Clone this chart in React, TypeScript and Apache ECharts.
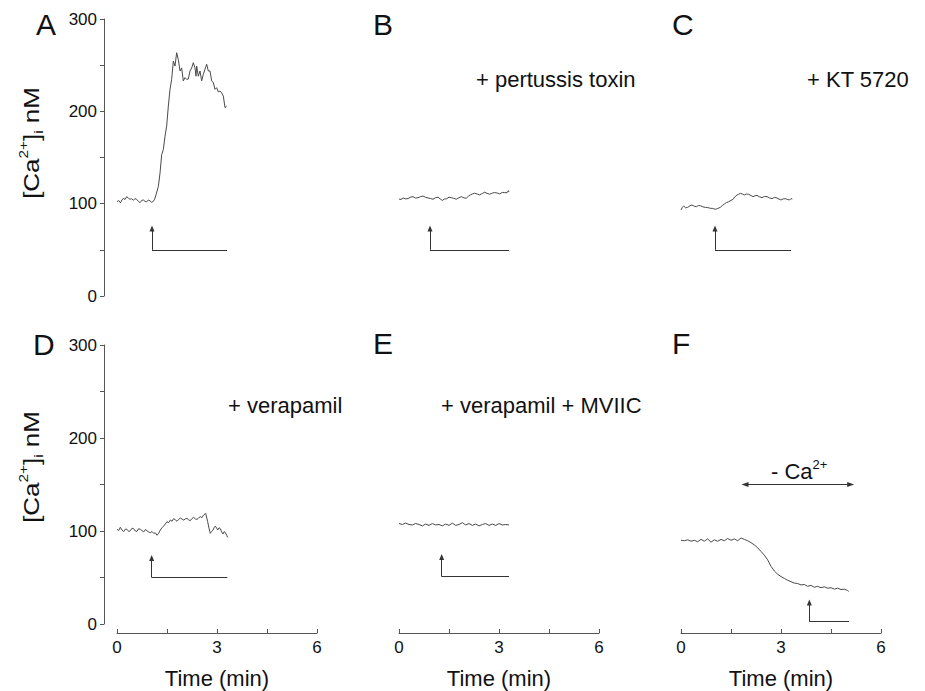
import React, { useEffect, useRef } from 'react';
import * as echarts from 'echarts';

// ---- Data (time in min, [Ca2+]i in nM) ----
const panelLetters = ['A', 'B', 'C', 'D', 'E', 'F'];
const treatmentLabels = ['', '+ pertussis toxin', '+ KT 5720', '+ verapamil', '+ verapamil + MVIIC', ''];
const xTicks = [0, 3, 6];
const yTicks = [0, 100, 200, 300];

const traceA: [number, number][] = [
  [0, 102], [0.05, 103.5], [0.1, 101], [0.15, 104], [0.19, 105.8], [0.24, 104.5], [0.29, 107.6], [0.34, 106], [0.39, 104.7],
  [0.44, 105.5], [0.49, 103.6], [0.54, 105.5], [0.59, 104.7], [0.64, 102.5], [0.69, 101], [0.74, 103.5], [0.79, 104],
  [0.84, 102.5], [0.89, 102], [0.94, 104], [0.99, 103], [1.04, 101.5], [1.09, 102.5], [1.13, 105], [1.17, 109.5],
  [1.24, 118.6], [1.29, 133], [1.34, 153], [1.39, 158.6], [1.44, 173], [1.49, 184], [1.54, 205.7], [1.59, 223.8],
  [1.64, 234.6], [1.69, 254.5], [1.74, 249], [1.79, 263.5], [1.84, 256], [1.89, 243.7], [1.94, 247], [1.99, 232.9],
  [2.04, 236.5], [2.09, 234.6], [2.14, 235], [2.19, 243.7], [2.24, 247], [2.29, 252.7], [2.34, 247], [2.37, 238],
  [2.39, 249], [2.44, 238], [2.49, 243.7], [2.54, 233], [2.59, 240], [2.64, 245.6], [2.69, 251], [2.74, 243.7],
  [2.79, 243.7], [2.84, 233], [2.89, 231], [2.94, 223.8], [2.99, 225.6], [3.04, 221], [3.09, 222], [3.14, 220],
  [3.19, 216.5], [3.24, 204], [3.29, 205.7]
];

const traceB: [number, number][] = [
  [0, 105], [0.06, 104.5], [0.12, 106.2], [0.2, 105.2], [0.27, 105.5], [0.34, 107], [0.42, 107.6], [0.5, 106],
  [0.57, 106.5], [0.64, 107.5], [0.72, 108.3], [0.8, 106.8], [0.87, 106.2], [0.95, 105.5], [1.02, 104.8], [1.1, 106.5],
  [1.17, 107], [1.24, 105], [1.3, 103.5], [1.36, 105], [1.42, 105.2], [1.5, 107], [1.57, 106.5], [1.64, 105.8],
  [1.72, 104.8], [1.8, 106.5], [1.87, 107.6], [1.95, 106.2], [2.02, 106], [2.08, 108], [2.14, 109.5], [2.2, 110.5],
  [2.27, 111.3], [2.35, 110.4], [2.42, 109.5], [2.5, 111], [2.57, 112.4], [2.64, 111.2], [2.72, 110.2], [2.8, 111.5],
  [2.87, 112], [2.95, 111.5], [3.02, 110.6], [3.1, 112.2], [3.17, 112], [3.24, 111.8], [3.28, 114.1], [3.3, 112.5]
];

const traceC: [number, number][] = [
  [0, 93.1], [0.04, 96], [0.08, 97.5], [0.14, 95.5], [0.2, 96], [0.27, 97.8], [0.33, 98.5], [0.4, 97.2], [0.46, 96.7],
  [0.52, 98], [0.58, 97.8], [0.66, 96.5], [0.73, 96], [0.8, 95.8], [0.88, 95], [0.95, 94.8], [1.03, 93.9], [1.1, 94.8],
  [1.18, 96], [1.24, 98], [1.3, 99.6], [1.36, 101.2], [1.43, 102.1], [1.5, 103.5], [1.56, 104.7], [1.62, 107.5],
  [1.68, 109.4], [1.73, 110.2], [1.78, 111.2], [1.84, 110.5], [1.9, 109.4], [1.96, 110.5], [2.03, 110.1], [2.1, 108.8],
  [2.16, 107.6], [2.22, 108.5], [2.28, 109], [2.35, 107.5], [2.43, 106.5], [2.5, 107.8], [2.58, 107.6], [2.65, 106.3],
  [2.73, 105.4], [2.8, 106.8], [2.88, 106.2], [2.94, 105], [3.0, 104], [3.07, 105.2], [3.13, 105.4], [3.2, 104.5],
  [3.26, 104], [3.3, 105.5], [3.34, 105]
];

const traceD: [number, number][] = [
  [0, 101.8], [0.05, 100.5], [0.1, 104], [0.15, 101], [0.2, 99.3], [0.25, 102], [0.3, 101.8], [0.35, 99.5], [0.4, 100.4],
  [0.45, 103], [0.5, 102.5], [0.55, 100], [0.6, 99.6], [0.65, 102.5], [0.7, 101.8], [0.75, 100.5], [0.8, 99], [0.85, 101.5],
  [0.9, 100.4], [0.95, 99], [1.0, 98.2], [1.05, 99.5], [1.1, 97.5], [1.15, 98], [1.2, 95.4], [1.25, 97.5], [1.3, 101],
  [1.35, 103.5], [1.4, 105.3], [1.45, 107.5], [1.5, 110], [1.55, 109], [1.6, 111.8], [1.65, 110.5], [1.7, 113.3],
  [1.75, 112], [1.8, 110.4], [1.85, 112.5], [1.9, 114], [1.95, 112.8], [2.0, 111.8], [2.05, 113], [2.1, 113.6],
  [2.15, 112], [2.2, 111.1], [2.25, 113.5], [2.3, 114.7], [2.35, 113], [2.4, 112.5], [2.45, 114], [2.5, 115.4],
  [2.55, 114.5], [2.6, 117.2], [2.66, 119], [2.72, 110], [2.76, 103], [2.8, 97.5], [2.84, 99.5], [2.88, 101],
  [2.92, 104], [2.95, 105.3], [2.99, 103], [3.02, 101], [3.06, 103.5], [3.1, 102.5], [3.14, 99], [3.18, 96.8],
  [3.22, 99.5], [3.25, 98.2], [3.29, 95.5], [3.32, 93.2]
];

const traceE: [number, number][] = [
  [0, 108], [0.1, 107], [0.2, 108.5], [0.3, 107], [0.4, 106.5], [0.5, 108], [0.6, 107], [0.7, 105.5], [0.8, 107.5],
  [0.9, 106], [1.0, 108], [1.1, 106.5], [1.2, 107], [1.3, 105.5], [1.4, 107.5], [1.5, 106], [1.6, 108.5], [1.7, 106],
  [1.8, 107], [1.9, 109], [2.0, 106.5], [2.1, 108], [2.2, 106], [2.3, 107.5], [2.4, 105.5], [2.5, 107], [2.6, 108],
  [2.7, 106], [2.8, 107.5], [2.9, 106], [3.0, 108], [3.1, 106.5], [3.2, 107], [3.3, 106.5]
];

const traceF: [number, number][] = [
  [0, 90], [0.1, 89.5], [0.2, 90.5], [0.3, 89], [0.4, 90], [0.5, 88.5], [0.6, 91], [0.7, 89], [0.8, 91.5], [0.9, 88],
  [1.0, 90.5], [1.1, 89], [1.2, 91], [1.3, 89.5], [1.4, 92], [1.5, 90], [1.6, 91.5], [1.7, 89.5], [1.8, 92.5], [1.9, 91],
  [2.0, 89.5], [2.1, 87.5], [2.2, 85], [2.3, 82], [2.4, 78], [2.5, 74], [2.6, 69], [2.7, 62], [2.8, 57], [2.9, 53.5],
  [3.0, 51], [3.1, 49], [3.2, 47], [3.3, 45.5], [3.4, 44], [3.5, 43.5], [3.6, 42], [3.7, 42.5], [3.8, 40.5], [3.9, 41.5],
  [4.0, 39.5], [4.1, 40.5], [4.2, 39], [4.3, 40], [4.4, 38.5], [4.5, 39], [4.6, 37.5], [4.7, 38.5], [4.8, 37], [4.9, 37.5],
  [5.0, 36], [5.03, 35]
];

// agonist application marker: [time of arrow, baseline level, arrow tip level, end time]
const markerA = [1.05, 50, 73, 3.3];
const markerB = [0.93, 50, 73, 3.3];
const markerC = [1.02, 50, 73, 3.3];
const markerD = [1.04, 50, 71, 3.31];
const markerE = [1.28, 51, 72, 3.3];
const markerF = [3.85, 2.5, 23, 5.04];

// Ca2+-free period in F: [start, end, level]
const caFreeF = [1.92, 5.09, 150];

const traces = [traceA, traceB, traceC, traceD, traceE, traceF];
const markers = [markerA, markerB, markerC, markerD, markerE, markerF];

const FONT = '"Liberation Sans", Arial, Helvetica, sans-serif';
const LINE = '#4a4a4a';
const AXIS = '#555';
const TEXT = '#111';

const gridLefts = [117, 399, 681];

export default function App() {
  const ref = useRef<HTMLDivElement>(null);

  useEffect(() => {
    if (!ref.current) return;
    const chart = echarts.init(ref.current, undefined, { renderer: 'svg' });

    const grids: any[] = [];
    const xAxes: any[] = [];
    const yAxes: any[] = [];
    const series: any[] = [];

    for (let i = 0; i < 6; i++) {
      const row = Math.floor(i / 3);
      const col = i % 3;
      grids.push({
        left: gridLefts[col],
        top: row === 0 ? 19 : 345,
        width: 200,
        height: row === 0 ? 277 : 279,
      });
      const showX = row === 1;
      const showY = col === 0;
      xAxes.push({
        gridIndex: i,
        type: 'value',
        min: 0,
        max: 6,
        interval: 1.5,
        show: showX,
        position: 'bottom',
        offset: 9,
        axisLine: { show: true, onZero: false, lineStyle: { color: AXIS, width: 1 } },
        axisTick: { show: true, inside: true, length: 4, lineStyle: { color: AXIS } },
        axisLabel: {
          show: true,
          margin: 6,
          fontSize: 17,
          color: TEXT,
          fontFamily: FONT,
          formatter: (v: number) => (xTicks.indexOf(v) >= 0 ? String(v) : ''),
        },
        splitLine: { show: false },
        name: 'Time (min)',
        nameLocation: 'middle',
        nameGap: 34,
        nameTextStyle: { fontSize: 22, color: TEXT, fontFamily: FONT },
      });
      yAxes.push({
        gridIndex: i,
        type: 'value',
        min: 0,
        max: 300,
        interval: 50,
        show: showY,
        position: 'left',
        offset: 13,
        axisLine: { show: true, onZero: false, lineStyle: { color: AXIS, width: 1 } },
        axisTick: { show: true, inside: false, length: 4, lineStyle: { color: AXIS } },
        axisLabel: {
          show: true,
          margin: 7,
          fontSize: 17,
          color: TEXT,
          fontFamily: FONT,
          formatter: (v: number) => (yTicks.indexOf(v) >= 0 ? String(v) : ''),
        },
        splitLine: { show: false },
      });

      const m = markers[i];
      const mlData: any[] = [
        [
          { coord: [m[3], m[1]], symbol: 'none' },
          { coord: [m[0], m[1]], symbol: 'none' },
        ],
        [
          { coord: [m[0], m[1]], symbol: 'none' },
          { coord: [m[0], m[2]], symbol: 'triangle', symbolSize: [5, 6] },
        ],
      ];
      if (i === 5) {
        mlData.push([
          { coord: [caFreeF[0], caFreeF[2]], symbol: 'triangle', symbolSize: [5, 7], symbolRotate: 90 },
          { coord: [caFreeF[1], caFreeF[2]], symbol: 'triangle', symbolSize: [5, 7], symbolRotate: -90 },
        ]);
      }

      series.push({
        type: 'line',
        xAxisIndex: i,
        yAxisIndex: i,
        data: traces[i],
        showSymbol: false,
        symbol: 'none',
        lineStyle: { color: LINE, width: 1 },
        silent: true,
        markLine: {
          silent: true,
          animation: false,
          label: { show: false },
          lineStyle: { color: '#333', width: 1, type: 'solid' },
          emphasis: { disabled: true },
          data: mlData,
        },
      });
    }

    const letterPos = [
      [36, 24], [373, 24], [672, 24],
      [33, 344], [373, 343], [672, 343],
    ];
    const labelPos = [
      [0, 0], [476, 79], [807, 79],
      [228, 405], [441, 405], [0, 0],
    ];

    const graphic: any[] = [];
    panelLetters.forEach((l, i) => {
      graphic.push({
        type: 'text',
        x: letterPos[i][0],
        y: letterPos[i][1],
        silent: true,
        style: { text: l, fontSize: 30, fontFamily: FONT, fill: TEXT, align: 'left', verticalAlign: 'middle' },
      });
    });
    treatmentLabels.forEach((t, i) => {
      if (!t) return;
      graphic.push({
        type: 'text',
        x: labelPos[i][0],
        y: labelPos[i][1],
        silent: true,
        style: { text: t, fontSize: 22, fontFamily: FONT, fill: TEXT, align: 'left', verticalAlign: 'middle' },
      });
    });
    // y axis titles
    [[31, 143], [31, 467]].forEach((p) => {
      graphic.push({
        type: 'text',
        x: p[0],
        y: p[1],
        rotation: Math.PI / 2,
        scaleX: 1.18,
        silent: true,
        style: {
          text: '[Ca{sup|2+}]{sub|i} nM',
          fontSize: 22,
          lineHeight: 28,
          fontFamily: FONT,
          fill: TEXT,
          align: 'center',
          verticalAlign: 'middle',
          rich: {
            sup: { fontSize: 13, lineHeight: 14, verticalAlign: 'top', fontFamily: FONT, fill: TEXT },
            sub: { fontSize: 13, lineHeight: 12, verticalAlign: 'bottom', fontFamily: FONT, fill: TEXT },
          },
        },
      });
    });
    // - Ca2+ label
    graphic.push({
      type: 'text',
      x: 771,
      y: 471,
      silent: true,
      style: {
        text: '- Ca{sup|2+}',
        fontSize: 22,
        lineHeight: 26,
        fontFamily: FONT,
        fill: TEXT,
        align: 'left',
        verticalAlign: 'middle',
        rich: {
          sup: { fontSize: 13, lineHeight: 13, verticalAlign: 'top', fontFamily: FONT, fill: TEXT },
        },
      },
    });

    chart.setOption({
      animation: false,
      backgroundColor: '#ffffff',
      grid: grids,
      xAxis: xAxes,
      yAxis: yAxes,
      series,
      graphic,
    });

    return () => chart.dispose();
  }, []);

  return (
    <div
      ref={ref}
      style={{ position: 'fixed', left: 0, top: 0, width: 925, height: 691, background: '#fff' }}
    />
  );
}
